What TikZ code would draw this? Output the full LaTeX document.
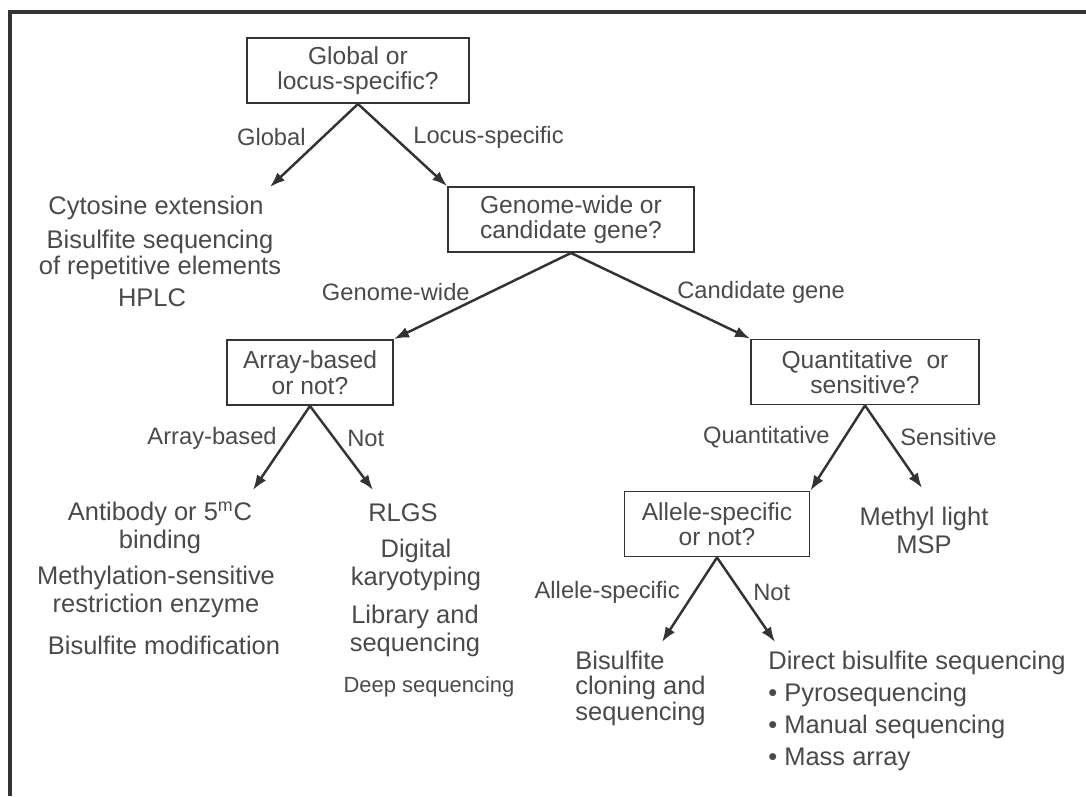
\documentclass[tikz,border=0pt]{standalone}
\usepackage{fontspec}
\setmainfont{Liberation Sans}
\usetikzlibrary{arrows.meta}
\definecolor{ink}{HTML}{333333}
\definecolor{txt}{HTML}{4A4A4A}
\begin{document}
\begin{tikzpicture}[x=0.02cm,y=-0.02cm,
    qbox/.style={draw=ink,line width=1.1pt,align=center,text=txt,minimum height=1.3cm,inner sep=0pt,font=\fontsize{14}{14.5}\selectfont},
    item/.style={align=center,text=txt,inner sep=0pt,font=\fontsize{14.5}{16}\selectfont},
    lab/.style={text=txt,inner sep=0pt,font=\fontsize{13.5}{15}\selectfont},
    flow/.style={draw=ink,line width=1.4pt,-{Latex[length=3mm,width=2.2mm]}}]
  \useasboundingbox (0,0) rectangle (1086,796);
  \draw[ink,line width=1.8pt] (10,796) -- (10,12) -- (1086,12);
  % questions
  \node[qbox,minimum width=4.44cm] (glob) at (358,70.5) {Global or\\locus-specific?};
  \node[qbox,minimum width=4.92cm] (gen) at (571,219.5) {Genome-wide or\\candidate gene?};
  \node[qbox,minimum width=3.32cm] (array) at (310,372.5) {Array-based\\or not?};
  \node[qbox,minimum width=4.56cm] (quant) at (865,372) {Quantitative\ \ or\\sensitive?};
  \node[qbox,minimum width=3.7cm] (allele) at (717,524) {Allele-specific\\or not?};
  % free ends
  \coordinate (glEnd) at (270,187);
  \coordinate (abEnd) at (253,490);
  \coordinate (anEnd) at (373,490);
  \coordinate (snEnd) at (922,488);
  \coordinate (asEnd) at (662,642);
  \coordinate (alEnd) at (775,642);
  % arrows
  \draw[flow] (glob.south) -- (glEnd);
  \draw[flow] (glob.south) -- (gen.north west);
  \draw[flow] (gen.south) -- (array.north east);
  \draw[flow] (gen.south) -- (quant.north west);
  \draw[flow] (array.south) -- (abEnd);
  \draw[flow] (array.south) -- (anEnd);
  \draw[flow] (quant.south) -- (allele.north east);
  \draw[flow] (quant.south) -- (snEnd);
  \draw[flow] (allele.south) -- (asEnd);
  \draw[flow] (allele.south) -- (alEnd);
  % branch labels
  \node[lab,anchor=east] (lGlob) at (306,137) {Global};
  \node[lab,anchor=west] (lLoc) at (413,137) {Locus-specific};
  \node[lab,anchor=east] (lGw) at (470,292) {Genome-wide};
  \node[lab,anchor=west] (lCg) at (677,292) {Candidate gene};
  \node[lab,anchor=east] (lAb) at (277,438) {Array-based};
  \node[lab,anchor=west] (lNot) at (347,438) {Not};
  \node[lab,anchor=east] (lQt) at (830,437) {Quantitative};
  \node[lab,anchor=west] (lSens) at (900,437) {Sensitive};
  \node[lab,anchor=east] (lAs) at (680,592) {Allele-specific};
  \node[lab,anchor=west] (lNot2) at (753,592) {Not};
  % methods
  \node[item] (cyt) at (156,208) {Cytosine extension};
  \node[item,font=\fontsize{14.5}{15}\selectfont] (bsrep) at (160,255) {Bisulfite sequencing\\of repetitive elements};
  \node[item] (hplc) at (152,298) {HPLC};
  \node[item] (ab) at (160,528) {Antibody or 5\textsuperscript{m}C\\binding};
  \node[item] (mse) at (156,592) {Methylation-sensitive\\restriction enzyme};
  \node[item] (bm) at (164,645) {Bisulfite modification};
  \node[item] (rlgs) at (403,513) {RLGS};
  \node[item] (dig) at (416,565) {Digital\\karyotyping};
  \node[item] (lib) at (415,631) {Library and\\sequencing};
  \node[item,font=\fontsize{12.5}{14}\selectfont] (deep) at (429,687) {Deep sequencing};
  \node[item] (ml) at (924,530) {Methyl light\\MSP};
  \node[item,align=left,anchor=west,font=\fontsize{14.5}{14.5}\selectfont] (bcs) at (575,688) {Bisulfite\\cloning and\\sequencing};
  \node[item,align=left,anchor=west,font=\fontsize{14.5}{18.2}\selectfont] (dbs) at (768,711) {Direct bisulfite sequencing\\\textbullet\ Pyrosequencing\\\textbullet\ Manual sequencing\\\textbullet\ Mass array};
\end{tikzpicture}
\end{document}
